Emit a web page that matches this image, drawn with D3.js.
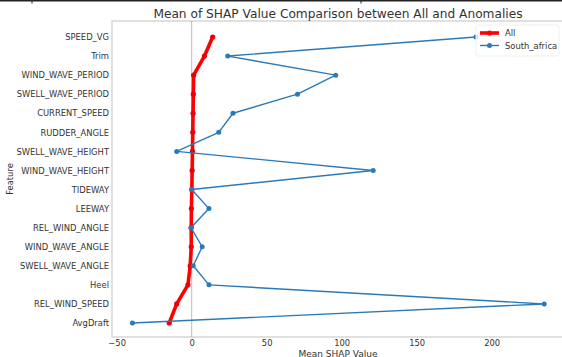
<!DOCTYPE html>
<html>
<head>
<meta charset="utf-8">
<script src="https://cdn.jsdelivr.net/npm/d3@7/dist/d3.min.js"></script>
<style>
  html, body { margin: 0; padding: 0; background: #fff; }
  svg { display: block; font-family: "DejaVu Sans", sans-serif; }
</style>
</head>
<body>
<svg id="chart" width="562" height="357"></svg>
<script>
// Features, top to bottom
const features = [
  "SPEED_VG", "Trim", "WIND_WAVE_PERIOD", "SWELL_WAVE_PERIOD", "CURRENT_SPEED",
  "RUDDER_ANGLE", "SWELL_WAVE_HEIGHT", "WIND_WAVE_HEIGHT", "TIDEWAY", "LEEWAY",
  "REL_WIND_ANGLE", "WIND_WAVE_ANGLE", "SWELL_WAVE_ANGLE", "Heel",
  "REL_WIND_SPEED", "AvgDraft"
];

// Mean SHAP value over all records
const allValues = [14, 8.5, 1.3, 1.1, 0.9, 0.7, 0.5, 0.3, 0.1, -0.2, -0.3, -0.3, -1, -2.5, -10, -15];

// Mean SHAP value over the South_africa anomalies
const southAfricaValues = [189.5, 24, 96, 70.5, 27.5, 18, -10, 121, 0, 11.5, -0.5, 7, 1, 11.5, 235, -39.5];

const xTicks = [-50, 0, 50, 100, 150, 200];

const svg = d3.select("#chart");
const W = 562, H = 357;
const plotLeft = 112, plotRight = 690, plotTop = 21, plotBottom = 337;
const labelSize = 8.4;

// strip of the figure above
svg.append("line").attr("x1", 0).attr("x2", W).attr("y1", 0.8).attr("y2", 0.8)
  .attr("stroke", "#222").attr("stroke-width", 1.6);
[32, 361].forEach(px => svg.append("line").attr("x1", px).attr("x2", px)
  .attr("y1", 0).attr("y2", 3.5).attr("stroke", "#222").attr("stroke-width", 1));

const x = d3.scaleLinear().domain([0, 100]).range([191.7, 341.7]);
const y = d3.scalePoint().domain(features).range([37, 323]);

// axes frame
svg.append("rect").attr("x", plotLeft).attr("y", plotTop)
  .attr("width", plotRight - plotLeft).attr("height", plotBottom - plotTop)
  .attr("fill", "none").attr("stroke", "#cccccc").attr("stroke-width", 1.2);

// zero reference line
svg.append("line").attr("x1", x(0)).attr("x2", x(0)).attr("y1", plotTop).attr("y2", plotBottom)
  .attr("stroke", "#aaaaaa").attr("stroke-width", 0.8);

// x axis
const xAxis = svg.append("g").attr("transform", `translate(0,${plotBottom})`)
  .call(d3.axisBottom(x).tickValues(xTicks).tickSize(0).tickPadding(3)
    .tickFormat(d => d < 0 ? "\u2212" + Math.abs(d) : d));
xAxis.select(".domain").remove();
xAxis.selectAll("text").attr("font-size", labelSize).attr("fill", "#333")
  .attr("font-family", "DejaVu Sans, sans-serif");

// y axis
const yAxis = svg.append("g").attr("transform", `translate(${plotLeft},0)`)
  .call(d3.axisLeft(y).tickSize(0).tickPadding(3));
yAxis.select(".domain").remove();
yAxis.selectAll("text").attr("font-size", labelSize).attr("fill", "#333")
  .attr("font-family", "DejaVu Sans, sans-serif");

// axis titles
svg.append("text").attr("x", 338).attr("y", 357).attr("text-anchor", "middle")
  .attr("font-size", 9).attr("fill", "#333").text("Mean SHAP Value");
svg.append("text").attr("transform", "translate(13,179) rotate(-90)")
  .attr("text-anchor", "middle").attr("font-size", 8.4).attr("fill", "#333").text("Feature");

// title
svg.append("text").attr("x", 338).attr("y", 18).attr("text-anchor", "middle")
  .attr("font-size", 12.2).attr("fill", "#333")
  .text("Mean of SHAP Value Comparison between All and Anomalies");

const line = d3.line().x(d => x(d[0])).y(d => y(d[1]));

svg.append("defs").append("clipPath").attr("id", "plotclip")
  .append("rect").attr("x", plotLeft).attr("y", plotTop)
  .attr("width", W - plotLeft).attr("height", plotBottom - plotTop);

const plot = svg.append("g").attr("clip-path", "url(#plotclip)");

const allPts = allValues.map((v, i) => [v, features[i]]);
const saPts = southAfricaValues.map((v, i) => [v, features[i]]);

plot.append("path").datum(allPts).attr("d", line)
  .attr("fill", "none").attr("stroke", "#ff0000").attr("stroke-width", 3.6)
  .attr("stroke-linejoin", "round").attr("stroke-linecap", "round");
plot.selectAll("circle.all").data(allPts).join("circle").attr("class", "all")
  .attr("cx", d => x(d[0])).attr("cy", d => y(d[1])).attr("r", 2.6).attr("fill", "#e8000b");

plot.append("path").datum(saPts).attr("d", line)
  .attr("fill", "none").attr("stroke", "#2a7ab9").attr("stroke-width", 1.4)
  .attr("stroke-linejoin", "round");
plot.selectAll("circle.sa").data(saPts).join("circle").attr("class", "sa")
  .attr("cx", d => x(d[0])).attr("cy", d => y(d[1])).attr("r", 2.5).attr("fill", "#2a7ab9");

// legend
const lg = svg.append("g");
lg.append("rect").attr("x", 476).attr("y", 25).attr("width", 83).attr("height", 31)
  .attr("rx", 2).attr("fill", "#fff").attr("fill-opacity", 0.8).attr("stroke", "#f0f0f0");
const items = [
  { label: "All", color: "#ff0000", w: 3.6, r: 2.6 },
  { label: "South_africa", color: "#2a7ab9", w: 1.4, r: 2.5 }
];
items.forEach((it, i) => {
  const cy = 33 + i * 12.5;
  lg.append("line").attr("x1", 480).attr("x2", 499).attr("y1", cy).attr("y2", cy)
    .attr("stroke", it.color).attr("stroke-width", it.w);
  lg.append("circle").attr("cx", 489.5).attr("cy", cy).attr("r", it.r).attr("fill", it.color);
  lg.append("text").attr("x", 505).attr("y", cy + 3).attr("font-size", labelSize)
    .attr("fill", "#333").text(it.label);
});
</script>
</body>
</html>
